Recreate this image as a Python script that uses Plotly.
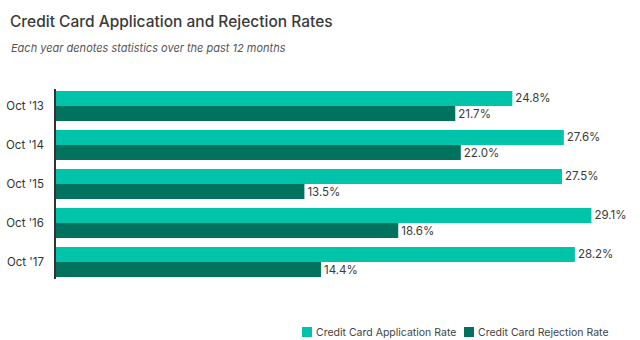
import plotly.graph_objects as go

categories = ["Oct '13", "Oct '14", "Oct '15", "Oct '16", "Oct '17"]
application_rate = [24.8, 27.6, 27.5, 29.1, 28.2]
rejection_rate = [21.7, 22.0, 13.5, 18.6, 14.4]
series_names = ["Credit Card Application Rate", "Credit Card Rejection Rate"]

APP_COLOR = "#00c4aa"
REJ_COLOR = "#00725d"
FONT = "Inter, 'Open Sans', sans-serif"

# plot area geometry (pixels)
L, R, T, B = 56, 20, 89, 61
W, H = 640, 340
PW, PH = W - L - R, H - T - B


def px_x(p):
    return (p - L) / PW


def px_y(p):
    return (H - B - p) / PH


fig = go.Figure()
colors = [APP_COLOR, REJ_COLOR]
for name, vals, col in zip(series_names, [application_rate, rejection_rate], colors):
    fig.add_trace(go.Bar(
        y=categories, x=vals, orientation="h", name=name,
        marker=dict(color=col, line=dict(width=0)),
        text=[f"{v:.1f}%" for v in vals], textposition="outside",
        textfont=dict(size=11.5, color="#3a3a3a", family=FONT), cliponaxis=False,
        showlegend=False,
    ))

# manual legend (swatch + label)
legend_x = [302, 464]
shapes = []
annotations = [dict(text="<i>Each year denotes statistics over the past 12 months</i>",
                    x=px_x(9), xref="paper", xanchor="left",
                    y=px_y(48), yref="paper", yanchor="middle",
                    showarrow=False,
                    font=dict(size=11, color="#555555", family=FONT))]
for name, col, lx in zip(series_names, colors, legend_x):
    shapes.append(dict(type="rect", xref="paper", yref="paper",
                       x0=px_x(lx), x1=px_x(lx + 10), y0=px_y(337), y1=px_y(327),
                       fillcolor=col, line=dict(width=0)))
    annotations.append(dict(text=name, x=px_x(lx + 12), xref="paper", xanchor="left",
                            y=px_y(332), yref="paper", yanchor="middle",
                            showarrow=False,
                            font=dict(size=10.5, color="#444444", family=FONT)))

fig.update_layout(
    width=W, height=H,
    margin=dict(l=L, r=R, t=T, b=B, autoexpand=False),
    paper_bgcolor="white", plot_bgcolor="white",
    barmode="group", bargap=0.23, bargroupgap=0,
    font=dict(family=FONT, color="#333333"),
    showlegend=False,
    title=dict(text="Credit Card Application and Rejection Rates",
               x=10/640, xanchor="left", xref="container",
               y=1 - 22/340, yanchor="middle", yref="container",
               font=dict(size=15.5, color="#3a3a3a", family=FONT, weight=500)),
    xaxis=dict(range=[0, (W - L - R) / 18.4], visible=False, fixedrange=True),
    yaxis=dict(categoryorder="array", categoryarray=categories,
               range=[4.436, -0.436], showline=True, linecolor="#333333",
               linewidth=1.5, ticks="", showgrid=False, zeroline=False,
               automargin=False, ticklabelstandoff=8,
               tickfont=dict(size=11.5, color="#333333", family=FONT)),
    shapes=shapes,
    annotations=annotations,
)

fig.write_html("out.html")
